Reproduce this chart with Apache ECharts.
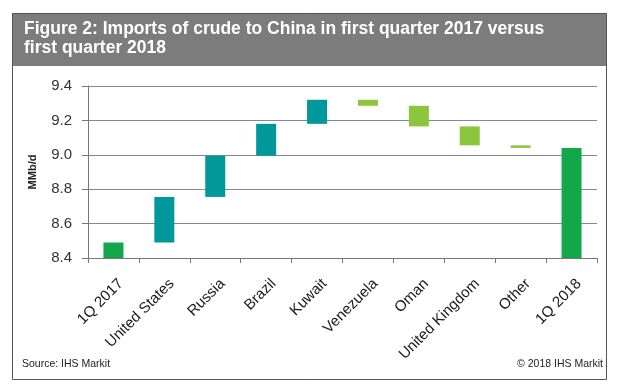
<!DOCTYPE html>
<html>
<head>
<meta charset="utf-8">
<script src="https://cdn.jsdelivr.net/npm/echarts@6/dist/echarts.min.js"></script>
<style>
html,body{margin:0;padding:0;background:#fff;}
#chart{width:627px;height:392px;}
</style>
</head>
<body>
<div id="chart"></div>
<script>
// Categories (x axis)
var categories = ['1Q 2017', 'United States', 'Russia', 'Brazil', 'Kuwait', 'Venezuela', 'Oman', 'United Kingdom', 'Other', '1Q 2018'];
// Totals at start and end (MMb/d)
var startTotal = 8.49;
var endTotal = 9.04;
// Changes by country (MMb/d)
var changes = [0.265, 0.24, 0.185, 0.14, -0.035, -0.12, -0.11, -0.015];
// Y axis ticks
var yTicks = [8.4, 8.6, 8.8, 9.0, 9.2, 9.4];

var baseData = [0];
var barData = [{value: startTotal, kind: 'total'}];
var running = startTotal;
changes.forEach(function (d) {
  var next = running + d;
  baseData.push(Math.min(running, next));
  barData.push({value: Math.abs(d), kind: d >= 0 ? 'up' : 'down'});
  running = next;
});
baseData.push(0);
barData.push({value: endTotal, kind: 'total'});

var colors = {total: '#12a84a', up: '#00989a', down: '#8cc63f'};
barData = barData.map(function (b) {
  return {value: b.value, itemStyle: {color: colors[b.kind]}};
});

var chart = echarts.init(document.getElementById('chart'), null, {renderer: 'canvas'});
var font = 'Arial, "Liberation Sans", sans-serif';
chart.setOption({
  animation: false,
  textStyle: {fontFamily: font},
  graphic: [
    {type: 'rect', z: 0, shape: {x: 12, y: 13, width: 595, height: 53}, style: {fill: '#7b7c7b'}},
    {type: 'rect', z: 1, shape: {x: 12.5, y: 13.5, width: 594, height: 366}, style: {fill: 'none', stroke: '#555', lineWidth: 1}}
  ],
  title: [
    {text: 'Figure 2: Imports of crude to China in first quarter 2017 versus\nfirst quarter 2018', left: 24, top: 20, z: 10, padding: 0,
      textStyle: {color: '#fff', fontSize: 17.5, fontWeight: 'bold', fontFamily: font, lineHeight: 19}},
    {text: 'Source: IHS Markit', left: 22, top: 359, z: 10, padding: 0,
      textStyle: {color: '#222', fontSize: 10.5, fontWeight: 'normal', fontFamily: font}},
    {text: '\u00a9 2018 IHS Markit', right: 24, top: 359, z: 10, padding: 0,
      textStyle: {color: '#222', fontSize: 10.5, fontWeight: 'normal', fontFamily: font}}
  ],
  grid: {left: 88, right: 30, top: 86, bottom: 134},
  xAxis: {
    type: 'category',
    data: categories,
    boundaryGap: true,
    axisLine: {lineStyle: {color: '#777', width: 1}},
    axisTick: {show: true, length: 5, lineStyle: {color: '#777'}},
    axisLabel: {rotate: 45, fontSize: 15, color: '#1a1a1a', margin: 16, interval: 0, fontFamily: font,
      align: 'right', verticalAlign: 'top', padding: [3, 0, 0, 0]}
  },
  yAxis: {
    type: 'value',
    min: yTicks[0],
    max: yTicks[yTicks.length - 1],
    interval: 0.2,
    name: 'MMb/d',
    nameLocation: 'middle',
    nameRotate: 90,
    nameGap: 50,
    nameTextStyle: {fontSize: 11, fontWeight: 'bold', color: '#222', fontFamily: font},
    axisLine: {show: true, lineStyle: {color: '#777'}},
    axisTick: {show: true, length: 6, lineStyle: {color: '#777'}},
    axisLabel: {fontSize: 15, color: '#333', margin: 16, fontFamily: font,
      formatter: function (v) { return v.toFixed(1); }},
    splitLine: {lineStyle: {color: '#888', width: 1}}
  },
  series: [
    {type: 'bar', stack: 'w', data: baseData, barWidth: 20, itemStyle: {color: 'transparent'}, silent: true},
    {type: 'bar', stack: 'w', data: barData, barWidth: 20}
  ]
});
</script>
</body>
</html>
